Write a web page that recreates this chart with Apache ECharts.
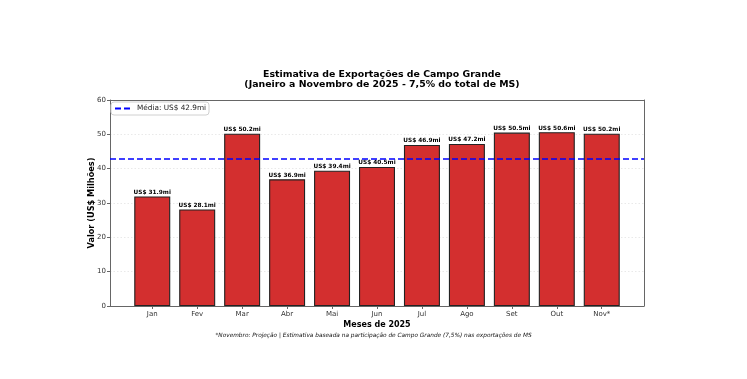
<!DOCTYPE html>
<html>
<head>
<meta charset="utf-8">
<script src="https://cdn.jsdelivr.net/npm/echarts@6/dist/echarts.min.js"></script>
<style>
html,body{margin:0;padding:0;background:#fff;}
#c{width:747px;height:379px;}
</style>
</head>
<body>
<div id="c"></div>
<script>
const months = ['Jan','Fev','Mar','Abr','Mai','Jun','Jul','Ago','Set','Out','Nov*'];
const values = [31.9, 28.1, 50.2, 36.9, 39.4, 40.5, 46.9, 47.2, 50.5, 50.6, 50.2];
const meanValue = 42.9;
const yTicks = [0, 10, 20, 30, 40, 50, 60];

const font = 'DejaVu Sans';
const chart = echarts.init(document.getElementById('c'), null, {renderer: 'canvas'});
const barData = values.map((v, i) => [i, v]);
const idx = months.map((m, i) => i);
const spine = {show: true, onZero: false, lineStyle: {color: '#666', width: 1}};

chart.setOption({
  backgroundColor: '#ffffff',
  animation: false,
  title: {
    text: 'Estimativa de Exportações de Campo Grande\n(Janeiro a Novembro de 2025 - 7,5% do total de MS)',
    left: 377, top: 64, textAlign: 'center',
    textStyle: {fontFamily: font, fontSize: 9.4, fontWeight: 'bold', color: '#000', lineHeight: 10.5}
  },
  legend: {
    left: 111, top: 102,
    data: ['Média: US$ ' + meanValue + 'mi'],
    itemWidth: 17, itemHeight: 8, itemGap: 5,
    padding: [3, 3, 3, 3],
    borderColor: '#d0d0d0', borderWidth: 1, borderRadius: 3,
    backgroundColor: '#fff',
    itemStyle: {opacity: 0},
    textStyle: {fontFamily: font, fontSize: 7.3, color: '#222'}
  },
  grid: {left: 110, top: 100, width: 534, height: 206, show: false},
  xAxis: [{
    type: 'value', min: -0.94, max: 10.94,
    name: 'Meses de 2025', nameLocation: 'middle', nameGap: 15, nameMoveOverlap: false,
    nameTextStyle: {fontFamily: font, fontSize: 8, fontWeight: 'bold', color: '#000'},
    axisLine: spine,
    axisTick: {show: true, length: 3, customValues: idx, lineStyle: {color: '#666'}},
    axisLabel: {customValues: idx, formatter: v => months[Math.round(v)], fontFamily: font, fontSize: 7, color: '#333', margin: 5},
    splitLine: {show: false}
  }, {
    type: 'value', position: 'top', min: -0.94, max: 10.94,
    axisLine: spine, axisTick: {show: false}, axisLabel: {show: false}, splitLine: {show: false}
  }],
  yAxis: [{
    type: 'value', min: 0, max: 60, interval: 10,
    name: 'Valor (US$ Milhões)', nameLocation: 'middle', nameGap: 14, nameRotate: 90, nameMoveOverlap: false,
    nameTextStyle: {fontFamily: font, fontSize: 8.2, fontWeight: 'bold', color: '#000'},
    axisLine: spine,
    axisTick: {show: true, length: 3, lineStyle: {color: '#666'}},
    axisLabel: {customValues: yTicks, fontFamily: font, fontSize: 7, color: '#333', margin: 4},
    splitLine: {show: true, lineStyle: {color: '#e3e3e3', type: [1.5, 2], width: 0.8}}
  }, {
    type: 'value', position: 'right', min: 0, max: 60, interval: 10,
    axisLine: spine, axisTick: {show: false}, axisLabel: {show: false}, splitLine: {show: false}
  }],
  series: [
    {
      type: 'bar', name: 'Valor',
      data: barData,
      barWidth: 36,
      itemStyle: {color: '#d32f2f', borderColor: '#222', borderWidth: 1.1},
      label: {
        show: true, position: 'top', distance: 1,
        formatter: p => 'US$ ' + p.value[1].toFixed(1) + 'mi',
        fontFamily: font, fontSize: 5.8, fontWeight: 'bold', color: '#000'
      },
      z: 2
    },
    {
      type: 'line', name: 'Média: US$ ' + meanValue + 'mi',
      data: [],
      symbol: 'none',
      lineStyle: {color: '#0000ff', width: 1.6, type: [6, 3]},
      itemStyle: {color: '#0000ff'},
      markLine: {
        silent: true, symbol: 'none',
        label: {show: false},
        lineStyle: {color: '#0000ff', width: 1.6, type: [6, 3]},
        data: [{yAxis: meanValue}]
      },
      z: 3
    }
  ],
  graphic: [
    {
      type: 'text', left: 'center', top: 332,
      style: {
        text: '*Novembro: Projeção | Estimativa baseada na participação de Campo Grande (7,5%) nas exportações de MS',
        fontFamily: font, fontSize: 5.8, fontStyle: 'italic', fill: '#111'
      }
    }
  ]
});
</script>
</body>
</html>
